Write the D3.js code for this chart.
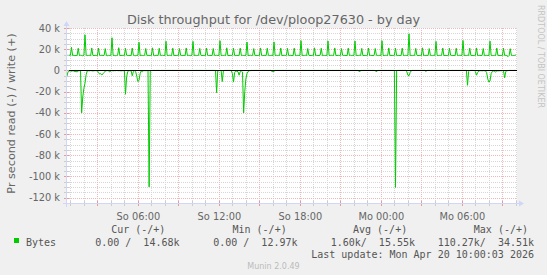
<!DOCTYPE html>
<html>
<head>
<meta charset="utf-8">
<script src="https://cdn.jsdelivr.net/npm/d3@7"></script>
<style>
html, body { margin: 0; padding: 0; background: #f0f0f0; }
svg { display: block; }
text { font-family: "DejaVu Sans", sans-serif; fill: #666; }
.mono { font-family: "DejaVu Sans Mono", monospace; white-space: pre; fill: #555; }
</style>
</head>
<body>
<svg id="chart" width="547" height="275"></svg>
<script>
// ---- data (kB/s, 5 minute samples from Sun 19 Apr 2026 00:45 UTC) ----
var startTime = Date.UTC(2026, 3, 19, 0, 45);
var endTime = Date.UTC(2026, 3, 20, 10, 5);
var stepMinutes = 5;

var writeKB = [
  14.3, 14.1, 14.4,
  // Sun 01 .. 23
  14.2, 21.8, 14.0, 14.3, 13.9, 14.1, 14.2, 20.9, 14.0, 14.3, 14.1, 13.8,
  14.2, 33.6, 14.4, 14.0, 14.1, 14.3, 13.9, 21.2, 14.2, 14.0, 14.3, 14.1,
  13.9, 21.0, 14.2, 14.1, 14.4, 14.0, 14.2, 20.6, 14.1, 13.9, 14.2, 14.0,
  14.3, 30.8, 14.1, 14.2, 13.9, 14.0, 14.3, 21.4, 14.0, 14.2, 14.1, 14.3,
  14.0, 20.8, 14.3, 14.1, 14.0, 14.2, 14.1, 21.1, 14.3, 14.0, 13.9, 14.2,
  14.1, 26.6, 14.0, 14.3, 14.1, 14.0, 14.2, 20.7, 14.1, 14.3, 14.0, 14.1,
  14.2, 21.3, 14.1, 13.9, 14.2, 14.3, 14.0, 20.9, 14.2, 14.1, 14.3, 14.0,
  14.1, 27.5, 14.2, 14.0, 14.3, 14.1, 13.9, 21.0, 14.1, 14.2, 14.0, 14.3,
  14.0, 20.6, 14.2, 14.1, 14.0, 14.3, 14.1, 21.2, 14.0, 14.2, 14.1, 13.9,
  14.2, 27.4, 14.1, 14.3, 14.0, 14.1, 14.2, 20.8, 14.3, 14.0, 14.2, 14.1,
  14.0, 21.1, 14.3, 14.0, 14.2, 14.1, 14.0, 20.7, 14.2, 14.1, 14.3, 14.0,
  14.1, 28.0, 14.0, 14.2, 14.1, 14.3, 14.0, 21.3, 14.1, 14.0, 14.2, 14.1,
  14.3, 20.9, 14.1, 14.0, 14.2, 14.1, 14.3, 21.0, 14.0, 14.2, 14.1, 14.0,
  14.2, 26.8, 14.0, 14.1, 14.3, 14.0, 14.2, 20.6, 14.1, 14.3, 14.0, 14.2,
  14.1, 21.2, 14.2, 14.0, 14.1, 14.3, 14.0, 20.9, 14.2, 14.0, 14.1, 14.3,
  14.0, 26.9, 14.1, 14.3, 14.0, 14.2, 14.1, 21.1, 14.0, 14.2, 14.3, 14.1,
  14.2, 20.8, 14.0, 14.1, 14.3, 14.0, 14.2, 21.0, 14.1, 14.0, 14.2, 14.1,
  14.1, 28.1, 14.2, 14.0, 14.1, 14.3, 14.0, 20.7, 14.2, 14.1, 14.0, 14.3,
  14.0, 21.3, 14.1, 14.2, 14.0, 14.1, 14.3, 20.9, 14.0, 14.2, 14.1, 14.0,
  14.2, 27.8, 14.0, 14.1, 14.3, 14.0, 14.1, 21.2, 14.2, 14.0, 14.3, 14.1,
  14.1, 20.6, 14.3, 14.0, 14.2, 14.1, 14.0, 21.0, 14.1, 14.3, 14.0, 14.2,
  14.0, 27.7, 14.2, 14.1, 14.0, 14.3, 14.1, 20.8, 14.0, 14.1, 14.2, 14.0,
  14.3, 21.1, 14.0, 14.2, 14.1, 14.0, 14.2, 20.7, 14.3, 14.1, 14.0, 14.2,
  // Mon 00 .. 09
  14.1, 28.0, 14.1, 14.0, 14.3, 14.2, 14.0, 21.2, 14.1, 14.2, 14.0, 14.1,
  14.2, 20.9, 14.0, 14.1, 14.2, 14.0, 14.3, 21.0, 14.1, 14.0, 14.2, 14.1,
  14.0, 34.51, 14.2, 14.1, 14.0, 14.2, 14.1, 20.8, 14.3, 14.0, 14.1, 14.2,
  14.1, 21.3, 14.0, 14.2, 14.1, 14.3, 14.0, 20.6, 14.2, 14.1, 14.0, 14.3,
  14.2, 27.4, 14.1, 14.0, 14.2, 14.1, 14.3, 21.1, 14.0, 14.2, 14.1, 14.0,
  14.1, 20.8, 14.3, 14.1, 14.0, 14.2, 14.1, 20.9, 14.2, 14.0, 14.3, 14.1,
  14.0, 28.2, 14.1, 14.2, 14.0, 14.3, 14.1, 21.0, 14.1, 14.2, 14.0, 14.1,
  14.2, 21.2, 14.0, 14.1, 14.3, 14.0, 14.2, 20.7, 14.0, 14.1, 14.2, 14.0,
  14.1, 27.6, 14.2, 14.0, 14.1, 14.2, 14.0, 21.1, 14.3, 14.1, 14.0, 14.2,
  14.0, 20.9, 14.1, 14.3, 14.0, 12.97, 14.1, 20.5, 14.2, 14.0, 14.1, 14.2,
  14.68
];

var readKB = [
  5.2, 1.0, 0.6,
  // Sun 01 .. 23
  0.5, 0.8, 0.4, 0.6, 1.2, 1.0, 1.4, 0.5, 0.3, 0.2, 40.0, 25.0,
  17.0, 12.0, 4.0, 0.5, 0.3, 0.4, 0.2, 0.3, 0.5, 0.3, 0.2, 0.3,
  0.4, 2.0, 3.5, 3.0, 4.2, 3.2, 2.0, 0.6, 0.3, 0.2, 0.5, 1.5,
  0.3, 0.2, 0.4, 0.2, 0.3, 0.1, 0.2, 0.3, 0.2, 0.4, 0.2, 0.3,
  0.2, 22.5, 6.0, 1.0, 0.3, 0.2, 0.4, 5.0, 1.0, 0.3, 1.0, 5.5,
  10.5, 9.5, 3.0, 0.5, 1.2, 0.3, 0.2, 0.3, 0.2, 0, 109.8, 0.3,
  0.2, 0.1, 0, 0, 0.1, 0, 0, 0, 0.1, 0, 0, 0,
  0, 0, 0, 0, 0, 0, 0, 0, 0, 0, 0, 0,
  0, 0, 0, 0, 0, 0, 0, 0, 0, 0, 0, 0,
  0, 0, 0, 0, 0, 0, 0, 0, 0, 0, 0, 0,
  0, 0, 0, 0, 0, 0, 0, 0, 0, 0, 21.0, 0.3,
  0.2, 0, 0, 10.5, 0.4, 0, 0, 0, 0, 0, 0, 0,
  3.0, 11.0, 2.0, 0.5, 0.8, 1.2, 4.5, 1.0, 0.5, 1.5, 40.0, 20.0,
  8.0, 3.0, 1.0, 0.3, 0.2, 0, 0, 0, 0, 0, 0, 0,
  0, 0, 0, 0, 0, 0, 0, 0, 0, 0, 0, 0.8,
  1.2, 0.8, 0, 0, 0, 0, 0, 0, 0, 0, 0, 0,
  0, 0, 0, 0, 0, 0, 0, 0, 0, 0, 0, 0,
  0, 0, 0, 0, 0, 0, 0, 0, 0, 0, 0, 0,
  0, 0, 0, 0, 0, 0, 0, 0, 0, 0, 0, 0,
  0, 0, 0, 0, 0, 0, 0, 0, 0, 0, 0, 0,
  0, 0, 0, 0, 0, 0, 0, 0, 0, 0, 0, 0,
  0, 0, 0, 0, 0, 1.5, 0, 0, 0, 0, 0, 0,
  0, 0, 0, 0, 0, 0, 0, 0, 1.5, 0, 0, 0,
  // Mon 00 .. 09
  0, 0, 0, 0, 0, 0, 0, 0, 0, 0, 0, 0,
  0, 110.27, 0, 0, 0, 0, 0, 0, 0, 0, 0, 1.0,
  4.5, 5.0, 2.0, 0.3, 0, 0, 0, 0, 0, 0, 0, 0,
  0, 0, 0, 0, 1.0, 0, 0, 0, 0, 0, 0, 0,
  0, 0, 0, 0, 0, 0, 0, 0, 0, 0, 0, 0,
  0, 0, 0, 0, 0, 0, 0, 0, 0, 0, 0, 0,
  0, 0, 0, 0, 0, 14.0, 1.0, 0, 0, 0, 0, 0,
  1.0, 4.5, 2.0, 0.5, 0.3, 0.2, 0.4, 0.2, 0.3, 0.5, 2.0, 8.0,
  11.0, 10.0, 3.0, 1.0, 0.5, 1.0, 1.5, 0.6, 0.3, 0.4, 0.2, 0.3,
  0.2, 0.4, 7.0, 1.0, 0.3, 0.2, 0, 0, 0, 0, 0, 0,
  0
];

var dayNames = ["So", "Mo", "Di", "Mi", "Do", "Fr", "Sa"];
var yTickValues = [-120, -100, -80, -60, -40, -20, 0, 20, 40];
var legendHeaders = ["Cur (-/+)", "Min (-/+)", "Avg (-/+)", "Max (-/+)"];
var legendValues = ["0.00 /  14.68k", "0.00 /  12.97k", "1.60k/  15.55k", "110.27k/  34.51k"];
var seriesName = "Bytes";
var titleText = "Disk throughput for /dev/ploop27630 - by day";
var yTitle = "Pr second read (-) / write (+)";
var lastUpdate = "Last update: Mon Apr 20 10:00:03 2026";

// ---- layout ----
var L = 67, T = 28, W = 450, H = 175;
var svg = d3.select("#chart");
var axisColor = "#cfd6f8", minorColor = "#d6d6d6", majorColor = "#efb9b9", lineColor = "#00cc00";

svg.append("rect").attr("width", 547).attr("height", 275).attr("fill", "#f0f0f0");
svg.append("rect").attr("x", L).attr("y", T).attr("width", W).attr("height", H).attr("fill", "#fff");

var x = d3.scaleUtc().domain([new Date(startTime), new Date(endTime)]).range([L, L + W]);
var y = d3.scaleLinear().domain([-125, 40]).range([T + H, T]);

function timeAt(i) { return new Date(startTime + i * stepMinutes * 60000); }

// grid
var grid = svg.append("g").attr("shape-rendering", "crispEdges");
var minorY = d3.range(-125, 41, 5).filter(function (v) { return v % 20 !== 0; });
grid.selectAll(".gy").data(minorY).enter().append("line")
  .attr("x1", L).attr("x2", L + W)
  .attr("y1", function (d) { return Math.round(y(d)) + 0.5; })
  .attr("y2", function (d) { return Math.round(y(d)) + 0.5; })
  .attr("stroke", minorColor).attr("stroke-dasharray", "1,1");
var hours = d3.utcHour.every(1).range(new Date(startTime), new Date(endTime));
grid.selectAll(".gx").data(hours.filter(function (d) { return d.getUTCHours() % 3 !== 0; })).enter().append("line")
  .attr("y1", T).attr("y2", T + H)
  .attr("x1", function (d) { return Math.round(x(d)) + 0.5; })
  .attr("x2", function (d) { return Math.round(x(d)) + 0.5; })
  .attr("stroke", minorColor).attr("stroke-dasharray", "1,1");
grid.selectAll(".my").data(yTickValues).enter().append("line")
  .attr("x1", L).attr("x2", L + W)
  .attr("y1", function (d) { return Math.round(y(d)) + 0.5; })
  .attr("y2", function (d) { return Math.round(y(d)) + 0.5; })
  .attr("stroke", majorColor).attr("stroke-dasharray", "1,1");
var majorHours = hours.filter(function (d) { return d.getUTCHours() % 3 === 0; });
grid.selectAll(".mx").data(majorHours).enter().append("line")
  .attr("y1", T).attr("y2", T + H)
  .attr("x1", function (d) { return Math.round(x(d)) + 0.5; })
  .attr("x2", function (d) { return Math.round(x(d)) + 0.5; })
  .attr("stroke", majorColor).attr("stroke-dasharray", "1,1");

// data lines
var line = d3.line()
  .x(function (d) { return x(d.t); })
  .y(function (d) { return y(d.v); });
var writePts = writeKB.map(function (v, i) { return { t: timeAt(i), v: v }; });
var readPts = readKB.map(function (v, i) { return { t: timeAt(i), v: -v }; });
svg.append("path").datum(readPts).attr("d", line)
  .attr("fill", "none").attr("stroke", lineColor).attr("stroke-width", 1);
svg.append("path").datum(writePts).attr("d", line)
  .attr("fill", "none").attr("stroke", lineColor).attr("stroke-width", 1);

// zero rule
svg.append("line").attr("x1", L).attr("x2", L + W)
  .attr("y1", Math.round(y(0)) + 0.5).attr("y2", Math.round(y(0)) + 0.5)
  .attr("stroke", "#000").attr("stroke-width", 1).attr("shape-rendering", "crispEdges");

// axes (d3 axes for ticks and labels)
var xAxis = d3.axisBottom(x)
  .tickValues(hours.filter(function (d) { return d.getUTCHours() % 6 === 0; }))
  .tickFormat(function (d) { return dayNames[d.getUTCDay()] + " " + d3.utcFormat("%H:%M")(d); })
  .tickSize(0).tickPadding(10);
var gx = svg.append("g").attr("transform", "translate(0," + (T + H) + ")").call(xAxis);
gx.select(".domain").remove();
gx.selectAll("text").attr("font-family", "DejaVu Sans").attr("font-size", 9.8).attr("fill", "#666");

var yAxis = d3.axisLeft(y).tickValues(yTickValues)
  .tickFormat(function (d) { return d === 0 ? "0" : d + " k"; })
  .tickSize(0).tickPadding(7);
var gy = svg.append("g").attr("transform", "translate(" + L + ",0)").call(yAxis);
gy.select(".domain").remove();
gy.selectAll("text").attr("font-family", "DejaVu Sans").attr("font-size", 9.8).attr("fill", "#666");

// small tick marks on axes
var ticks = svg.append("g").attr("shape-rendering", "crispEdges");
ticks.selectAll(".tx").data(hours).enter().append("line")
  .attr("x1", function (d) { return Math.round(x(d)) + 0.5; })
  .attr("x2", function (d) { return Math.round(x(d)) + 0.5; })
  .attr("y1", T + H - 2).attr("y2", T + H + 3)
  .attr("stroke", function (d) { return d.getUTCHours() % 3 === 0 ? "#e79a9a" : "#cccccc"; });
ticks.selectAll(".ty").data(d3.range(-125, 41, 5)).enter().append("line")
  .attr("y1", function (d) { return Math.round(y(d)) + 0.5; })
  .attr("y2", function (d) { return Math.round(y(d)) + 0.5; })
  .attr("x1", L - 3).attr("x2", L + 2)
  .attr("stroke", function (d) { return d % 20 === 0 ? "#e79a9a" : "#cccccc"; });

// axis lines + arrows
var ax = svg.append("g").attr("shape-rendering", "crispEdges");
ax.append("line").attr("x1", L - 4).attr("x2", L + W + 4)
  .attr("y1", T + H + 0.5).attr("y2", T + H + 0.5).attr("stroke", axisColor);
ax.append("line").attr("x1", L - 0.5).attr("x2", L - 0.5)
  .attr("y1", T + H + 4).attr("y2", T - 4).attr("stroke", axisColor);
svg.append("path").attr("fill", axisColor)
  .attr("d", "M" + (L + W + 2) + "," + (T + H - 2.5) + "L" + (L + W + 7) + "," + (T + H + 0.5) + "L" + (L + W + 2) + "," + (T + H + 3.5) + "Z");
svg.append("path").attr("fill", axisColor)
  .attr("d", "M" + (L - 3.5) + "," + (T - 2) + "L" + (L - 0.5) + "," + (T - 7) + "L" + (L + 2.5) + "," + (T - 2) + "Z");

// title & labels
svg.append("text").attr("x", 273.5).attr("y", 24).attr("text-anchor", "middle")
  .attr("font-size", 12.8).text(titleText);
svg.append("text").attr("transform", "translate(15,113.5) rotate(-90)")
  .attr("text-anchor", "middle").attr("font-size", 11.2).text(yTitle);
svg.append("text").attr("transform", "translate(537.5,5) rotate(90)")
  .attr("font-size", 8).style("fill", "#c4c4c4").text("RRDTOOL / TOBI OETIKER");

// legend
var headerX = [111.2, 232.5, 353, 473.8];
var valueEndX = [179.5, 297.5, 415, 534];
svg.selectAll(".lh").data(legendHeaders).enter().append("text").attr("class", "mono")
  .attr("x", function (d, i) { return headerX[i]; }).attr("y", 232.6)
  .attr("font-size", 10).text(function (d) { return d; });
svg.append("rect").attr("x", 14).attr("y", 238).attr("width", 5).attr("height", 5).attr("fill", lineColor);
svg.append("text").attr("class", "mono").attr("x", 26).attr("y", 245.6).attr("font-size", 10).text(seriesName);
svg.selectAll(".lv").data(legendValues).enter().append("text").attr("class", "mono")
  .attr("x", function (d, i) { return valueEndX[i]; }).attr("y", 245.6)
  .attr("text-anchor", "end").attr("font-size", 10).text(function (d) { return d; });
svg.append("text").attr("class", "mono").attr("x", 534).attr("y", 257.8)
  .attr("text-anchor", "end").attr("font-size", 10).text(lastUpdate);
svg.append("text").attr("x", 273.5).attr("y", 269.3).attr("text-anchor", "middle")
  .attr("font-size", 8).style("fill", "#bbb").text("Munin 2.0.49");
</script>
</body>
</html>
